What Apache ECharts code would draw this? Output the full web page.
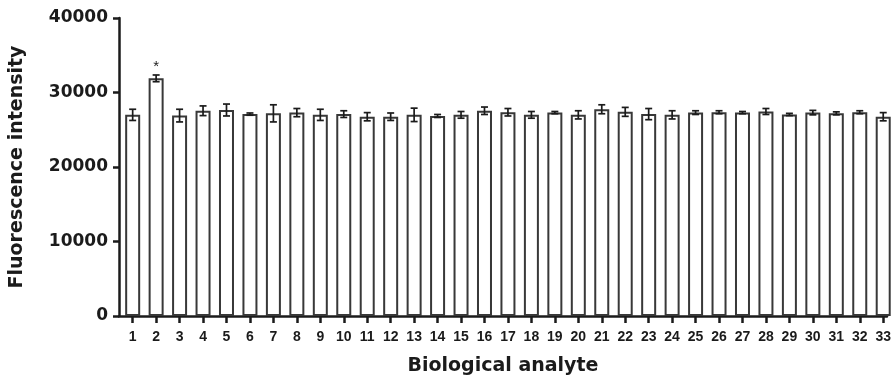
<!DOCTYPE html>
<html>
<head>
<meta charset="utf-8">
<script src="https://cdn.jsdelivr.net/npm/echarts@6/dist/echarts.min.js"></script>
<style>
  html, body { margin: 0; padding: 0; background: #fff; }
  #chart { width: 894px; height: 383px; }
</style>
</head>
<body>
<div id="chart"></div>
<script>
  // analyte numbers on the x axis
  const analytes = [1, 2, 3, 4, 5, 6, 7, 8, 9, 10, 11, 12, 13, 14, 15, 16, 17,
    18, 19, 20, 21, 22, 23, 24, 25, 26, 27, 28, 29, 30, 31, 32, 33]
  // mean fluorescence intensity per analyte
  const means = [27000, 31900, 26900, 27550, 27650, 27100, 27200, 27300, 27000, 27100,
    26750, 26750, 27000, 26850, 27000, 27550, 27350, 27000, 27300, 27000,
    27750, 27400, 27100, 27000, 27300, 27350, 27300, 27450, 27050, 27300,
    27200, 27350, 26750]
  // error (+/-) per analyte
  const errs = [750, 450, 850, 650, 800, 150, 1150, 550, 750, 450,
    550, 500, 900, 200, 450, 500, 500, 450, 150, 550,
    600, 600, 750, 550, 250, 200, 150, 400, 150, 300,
    200, 200, 550]
  const yTicks = [0, 10000, 20000, 30000, 40000]
  const marked = [2] // analytes flagged with *

  const ink = '#1b1b1b'
  const chart = echarts.init(document.getElementById('chart'))

  const barData = analytes.map((a, i) => ({
    value: [a, means[i]],
    label: { show: marked.includes(a) }
  }))
  const errData = analytes.map((a, i) => [a, means[i], errs[i]])

  chart.setOption({
    animation: false,
    grid: { left: 119, right: 6, top: 18, bottom: 67 },
    xAxis: {
      type: 'value',
      min: 0.417,
      max: 33.16,
      name: 'Biological analyte',
      nameLocation: 'middle',
      nameGap: 41,
      nameTextStyle: { fontFamily: 'DejaVu Sans', fontWeight: 'bold', fontSize: 19, color: ink },
      splitLine: { show: false },
      axisLine: { lineStyle: { color: ink, width: 2.5 } },
      axisTick: { customValues: analytes, length: 7, lineStyle: { color: ink, width: 2.5 } },
      axisLabel: {
        customValues: analytes,
        margin: 14,
        fontFamily: 'Liberation Sans',
        fontWeight: 'bold',
        fontSize: 14,
        color: ink
      }
    },
    yAxis: {
      type: 'value',
      min: 0,
      max: 40000,
      interval: 10000,
      name: 'Fluorescence intensity',
      nameLocation: 'middle',
      nameGap: 92,
      nameTextStyle: { fontFamily: 'DejaVu Sans', fontWeight: 'bold', fontSize: 19, color: ink },
      splitLine: { show: false },
      axisLine: { show: true, lineStyle: { color: ink, width: 2.5 } },
      axisTick: { show: true, length: 6, lineStyle: { color: ink, width: 2.5 } },
      axisLabel: {
        margin: 11,
        fontFamily: 'DejaVu Sans',
        fontWeight: 'bold',
        fontSize: 17,
        color: ink,
        formatter: v => yTicks.includes(v) ? String(v) : ''
      }
    },
    series: [
      {
        type: 'bar',
        data: barData,
        barWidth: 15,
        itemStyle: { color: '#fff', borderColor: '#383838', borderWidth: 2 },
        label: {
          position: 'top',
          distance: 4,
          formatter: '*',
          fontFamily: 'Liberation Sans',
          fontSize: 15,
          color: ink
        },
        z: 2
      },
      {
        type: 'custom',
        data: errData,
        encode: { x: 0, y: 1 },
        z: 3,
        renderItem: (params, api) => {
          const x = api.value(0)
          const m = api.value(1)
          const e = api.value(2)
          const hi = api.coord([x, m + e])
          const lo = api.coord([x, m - e])
          const cap = 3.5
          const style = { stroke: ink, lineWidth: 1.7 }
          return {
            type: 'group',
            children: [
              { type: 'line', shape: { x1: hi[0], y1: hi[1], x2: lo[0], y2: lo[1] }, style },
              { type: 'line', shape: { x1: hi[0] - cap, y1: hi[1], x2: hi[0] + cap, y2: hi[1] }, style },
              { type: 'line', shape: { x1: lo[0] - cap, y1: lo[1], x2: lo[0] + cap, y2: lo[1] }, style }
            ]
          }
        }
      }
    ]
  })
</script>
</body>
</html>
